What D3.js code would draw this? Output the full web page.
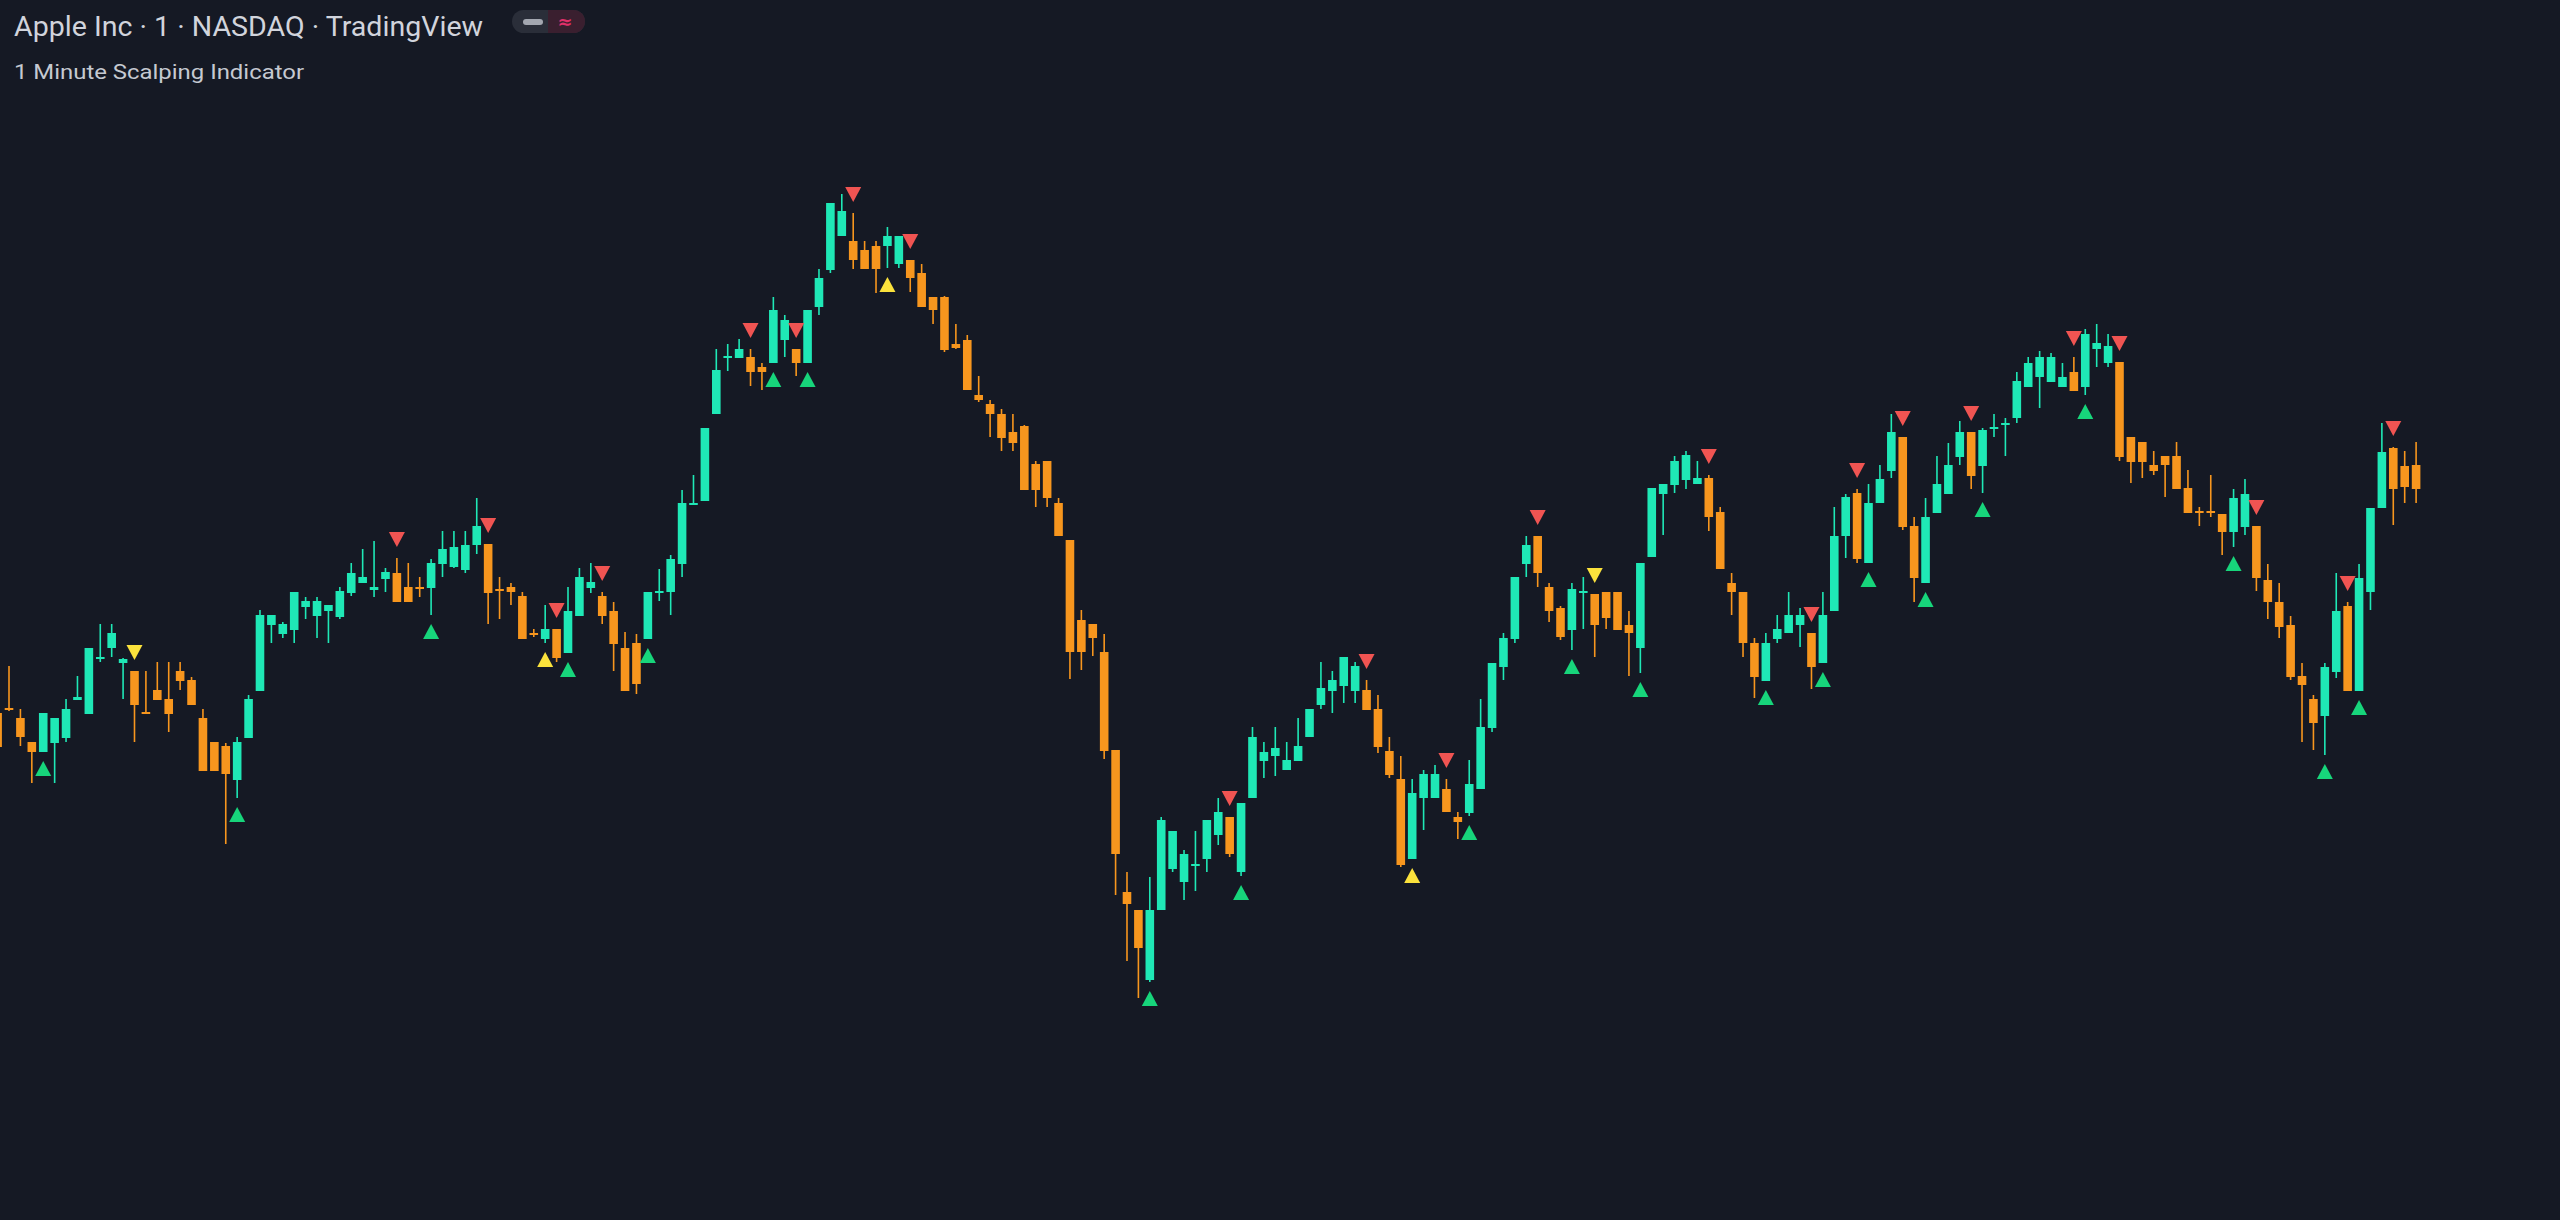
<!DOCTYPE html>
<html>
<head>
<meta charset="utf-8">
<title>Apple Inc - 1 Minute Scalping Indicator</title>
<script src="https://cdn.jsdelivr.net/npm/d3@7/dist/d3.min.js"></script>
<style>
  html, body { margin: 0; padding: 0; background: #151924; overflow: hidden; }
</style>
</head>
<body>
<script>
// 1-minute AAPL bars (oldest first)
var opens = [202.87,202.92,202.82,202.58,202.48,202.57,202.62,203.00,202.86,203.41,
  203.52,203.37,203.29,202.88,203.10,203.01,203.29,203.20,202.82,202.58,
  202.54,202.20,202.62,203.09,203.75,203.66,203.70,203.93,203.84,203.89,
  203.83,204.07,204.17,204.10,204.21,204.27,204.13,204.13,204.12,204.36,
  204.33,204.30,204.55,204.56,204.11,204.13,204.04,203.67,203.61,203.71,
  203.47,203.84,204.12,204.04,203.89,203.52,203.57,203.61,204.08,204.08,
  204.36,204.96,204.99,205.86,206.43,206.42,206.43,206.33,206.37,206.60,
  206.51,206.37,206.93,207.30,207.64,207.59,207.50,207.54,207.54,207.36,
  207.40,207.27,207.03,207.03,206.56,206.60,206.05,205.96,205.86,205.68,
  205.74,205.36,205.39,204.97,204.60,203.80,203.76,203.48,202.50,201.08,
  200.90,200.20,200.90,201.31,201.18,201.34,201.41,201.65,201.83,201.28,
  202.02,202.39,202.44,202.30,202.39,202.63,202.95,203.09,203.14,203.09,
  203.10,202.91,202.49,202.21,201.41,202.02,202.02,202.11,201.83,201.87,
  202.11,202.72,203.33,203.61,204.36,204.64,204.13,203.92,203.70,204.08,
  204.06,204.08,204.08,203.75,203.52,204.43,205.06,205.15,205.20,205.16,
  205.22,204.88,204.17,204.08,203.57,203.19,203.61,203.67,203.75,203.67,
  203.37,203.89,204.64,205.07,204.37,204.97,205.29,205.63,204.74,204.17,
  204.87,205.06,205.43,205.68,205.34,205.72,205.76,205.82,206.13,206.23,
  206.18,206.13,206.28,206.13,206.51,206.37,206.38,205.63,205.58,205.35,
  205.44,205.44,205.12,204.89,204.89,204.86,204.68,204.73,204.74,204.20,
  203.98,203.75,203.24,203.01,202.84,203.28,203.94,203.09,204.08,204.92,
  205.52,205.34,205.35];

var highs = [202.87,203.34,202.91,202.58,202.87,202.82,203.01,203.24,203.52,203.76,
  203.76,203.42,203.29,203.29,203.38,203.38,203.38,203.23,202.91,202.58,
  202.57,202.63,203.05,203.90,203.85,203.78,204.08,204.03,204.03,203.95,
  204.13,204.37,204.51,204.59,204.32,204.42,204.37,204.23,204.41,204.69,
  204.69,204.69,205.02,204.56,204.23,204.17,204.08,203.71,203.95,203.71,
  204.13,204.32,204.37,204.08,203.98,203.68,203.66,204.08,204.31,204.45,
  205.10,205.25,205.72,206.51,206.56,206.61,206.51,206.37,207.03,206.85,
  206.51,206.90,207.31,207.97,208.06,207.87,207.59,207.59,207.73,207.64,
  207.40,207.36,207.03,207.04,206.76,206.65,206.24,206.00,205.91,205.86,
  205.75,205.39,205.39,205.02,204.60,203.90,203.76,203.66,202.50,201.28,
  200.90,201.23,201.83,201.69,201.50,201.69,201.80,202.02,201.83,201.97,
  202.73,202.58,202.73,202.58,202.82,202.91,203.38,203.29,203.43,203.38,
  203.20,203.05,202.63,202.44,202.21,202.30,202.35,202.21,201.88,202.40,
  203.01,203.37,203.67,204.23,204.64,204.64,204.17,203.94,204.17,204.23,
  204.06,204.08,204.08,203.89,204.37,205.12,205.16,205.44,205.49,205.39,
  205.25,204.93,204.27,204.08,203.62,203.67,203.85,204.08,203.92,203.67,
  204.08,204.93,205.06,205.11,205.16,205.35,205.86,205.63,204.83,205.02,
  205.44,205.57,205.79,205.68,205.72,205.86,205.82,206.28,206.43,206.49,
  206.47,206.37,206.43,206.71,206.76,206.66,206.38,205.63,205.58,205.49,
  205.44,205.58,205.30,204.93,205.25,204.86,205.11,205.21,204.74,204.36,
  204.17,203.84,203.37,203.05,203.37,204.27,203.98,204.36,204.92,205.77,
  205.53,205.49,205.58];

var lows = [202.53,202.89,202.54,202.17,202.48,202.17,202.58,203.00,202.86,203.38,
  203.43,203.01,202.58,202.86,203.00,202.68,203.10,202.95,202.29,202.29,
  201.56,202.02,202.62,203.09,203.57,203.62,203.57,203.81,203.62,203.57,
  203.81,204.04,204.17,204.03,204.08,203.98,203.98,204.03,203.85,204.23,
  204.32,204.27,204.46,203.76,203.81,203.95,203.61,203.63,203.57,203.38,
  203.47,203.84,204.07,203.76,203.29,203.09,203.06,203.61,203.99,203.85,
  204.23,204.96,204.99,205.86,206.29,206.42,206.14,206.10,206.37,206.43,
  206.24,206.37,206.85,207.27,207.64,207.31,207.31,207.07,207.32,207.32,
  207.08,206.93,206.76,206.48,206.51,206.10,205.98,205.63,205.49,205.49,
  205.10,204.93,204.93,204.64,203.21,203.30,203.44,202.41,201.05,200.39,
  200.02,200.18,200.90,201.28,201.00,201.09,201.28,201.55,201.43,201.24,
  202.02,202.22,202.24,202.30,202.39,202.63,202.91,202.87,202.97,202.97,
  202.90,202.47,202.22,201.33,201.41,201.70,202.02,201.88,201.61,201.84,
  202.11,202.68,203.20,203.57,204.23,204.13,203.78,203.60,203.50,203.71,
  203.43,203.71,203.70,203.24,203.27,204.43,204.65,205.07,205.11,205.16,
  204.69,204.31,203.85,203.43,203.02,203.19,203.57,203.67,203.53,203.11,
  203.37,203.89,204.42,204.37,204.37,204.97,205.22,204.70,203.98,204.17,
  204.87,205.06,205.35,205.11,205.07,205.63,205.44,205.77,206.13,205.92,
  206.18,206.13,206.09,206.05,206.33,206.33,205.39,205.17,205.22,205.25,
  205.03,205.11,204.87,204.74,204.83,204.45,204.53,204.65,204.09,203.81,
  203.62,203.20,202.58,202.50,202.45,203.22,203.09,203.09,203.90,204.92,
  204.75,204.97,204.97];

var closes = [202.53,202.90,202.63,202.48,202.87,202.82,202.91,203.03,203.52,203.43,
  203.67,203.41,202.95,202.86,203.00,202.86,203.19,202.95,202.29,202.29,
  202.26,202.58,203.01,203.85,203.85,203.76,204.08,203.99,203.99,203.95,
  204.09,204.27,204.23,204.13,204.28,203.98,203.98,204.12,204.37,204.51,
  204.53,204.55,204.74,204.07,204.10,204.08,203.61,203.66,203.71,203.42,
  203.89,204.23,204.18,203.84,203.56,203.09,203.16,204.08,204.09,204.41,
  204.97,204.97,205.72,206.30,206.44,206.51,206.28,206.28,206.90,206.80,
  206.37,206.90,207.22,207.97,207.89,207.40,207.31,207.31,207.64,207.64,
  207.22,206.93,206.90,206.50,206.52,206.10,206.00,205.86,205.62,205.57,
  205.10,205.10,205.02,204.64,203.48,203.48,203.62,202.49,201.46,200.96,
  200.52,200.90,201.80,201.69,201.46,201.36,201.80,201.88,201.46,201.97,
  202.63,202.48,202.52,202.40,202.54,202.91,203.12,203.20,203.43,203.34,
  202.90,202.53,202.25,201.35,202.07,202.26,202.26,201.88,201.78,202.16,
  202.73,203.37,203.62,204.23,204.55,204.27,203.89,203.63,204.11,204.09,
  203.75,203.82,203.70,203.67,204.37,205.12,205.16,205.39,205.45,205.22,
  204.83,204.31,204.08,203.57,203.23,203.57,203.71,203.85,203.85,203.33,
  203.85,204.64,205.03,204.41,204.97,205.21,205.68,204.73,204.22,204.83,
  205.16,205.35,205.68,205.24,205.70,205.73,205.77,206.19,206.37,206.43,
  206.43,206.23,206.09,206.66,206.57,206.54,205.43,205.38,205.38,205.29,
  205.35,205.11,204.87,204.87,204.87,204.68,205.02,205.06,204.22,203.98,
  203.73,203.23,203.15,202.77,203.33,203.89,203.09,204.22,204.92,205.48,
  205.11,205.13,205.11];

// indicator signals (bar index)
var buySignals = [4,21,38,50,57,68,71,101,109,129,138,144,155,160,164,169,174,183,196,204,207];
var sellSignals = [35,43,49,53,66,70,75,80,108,120,127,135,150,159,163,167,173,182,186,198,206,210];
var weakBuySignals = [48,78,124];
var weakSellSignals = [12,140];

var width = 2560, height = 1220;
var bullColor = "#1fe8b6", bearColor = "#f7961e";

var bars = opens.map(function (o, i) {
  return {i: i, o: o, h: highs[i], l: lows[i], c: closes[i]};
});

var x = d3.scaleLinear().domain([0, 212]).range([-2.4, 2416.1]);
var y = d3.scaleLinear().domain([200, 210]).range([1000, 0]);

var svg = d3.select("body").append("svg")
    .attr("width", width)
    .attr("height", height);

svg.append("rect").attr("width", width).attr("height", height).attr("fill", "#151924");

// header
svg.append("text")
    .attr("x", 14).attr("y", 36)
    .attr("font-family", "Roboto, sans-serif")
    .attr("font-size", 28)
    .attr("fill", "#d1d4dc")
    .attr("textLength", 469).attr("lengthAdjust", "spacingAndGlyphs")
    .text("Apple Inc \u00b7 1 \u00b7 NASDAQ \u00b7 TradingView");

svg.append("text")
    .attr("x", 14).attr("y", 79)
    .attr("font-family", "Roboto, sans-serif")
    .attr("font-size", 20)
    .attr("fill", "#c5c9d1")
    .attr("textLength", 290).attr("lengthAdjust", "spacingAndGlyphs")
    .text("1 Minute Scalping Indicator");

// little toggle badge next to the title
var badge = svg.append("g").attr("transform", "translate(512,10)");
badge.append("rect").attr("width", 73).attr("height", 23).attr("rx", 11.5).attr("fill", "#2a2e39");
badge.append("path").attr("d", "M36,0 H61.5 A11.5,11.5 0 0 1 61.5,23 H36 Z").attr("fill", "#3a1f2f");
badge.append("rect").attr("x", 11).attr("y", 9).attr("width", 20).attr("height", 6).attr("rx", 3).attr("fill", "#a3a7b0");
badge.append("text").attr("x", 53).attr("y", 18).attr("text-anchor", "middle")
    .attr("font-family", "'DejaVu Sans', sans-serif").attr("font-size", 18).attr("font-weight", "bold")
    .attr("fill", "#e0306a").text("\u2248");

// candles
var candles = svg.append("g").attr("id", "candles");

candles.selectAll(".wick")
  .data(bars)
  .enter().append("line")
    .attr("class", "wick")
    .attr("x1", function (d) { return x(d.i); })
    .attr("x2", function (d) { return x(d.i); })
    .attr("y1", function (d) { return y(Math.max(d.h, d.o, d.c)); })
    .attr("y2", function (d) { return y(Math.min(d.l, d.o, d.c)); })
    .attr("stroke", function (d) { return d.c >= d.o ? bullColor : bearColor; })
    .attr("stroke-width", 1.6);

candles.selectAll(".body")
  .data(bars)
  .enter().append("rect")
    .attr("class", "body")
    .attr("x", function (d) { return x(d.i) - 4.3; })
    .attr("width", 8.6)
    .attr("y", function (d) { return y(Math.max(d.o, d.c)); })
    .attr("height", function (d) { return Math.max(2, Math.abs(y(d.o) - y(d.c))); })
    .attr("fill", function (d) { return d.c >= d.o ? bullColor : bearColor; });

// signal triangles
function upTri(d) {
  var cx = x(d), top = y(lows[d]) + 9;
  return "M" + cx + "," + top + "L" + (cx + 8) + "," + (top + 15) + "L" + (cx - 8) + "," + (top + 15) + "Z";
}
function downTri(d) {
  var cx = x(d), bot = y(highs[d]) - 11;
  return "M" + cx + "," + bot + "L" + (cx + 8) + "," + (bot - 15) + "L" + (cx - 8) + "," + (bot - 15) + "Z";
}

var signals = svg.append("g").attr("id", "signals");
signals.selectAll(".buy").data(buySignals).enter().append("path")
    .attr("class", "buy").attr("d", upTri).attr("fill", "#17d57b");
signals.selectAll(".sell").data(sellSignals).enter().append("path")
    .attr("class", "sell").attr("d", downTri).attr("fill", "#f05452");
signals.selectAll(".wbuy").data(weakBuySignals).enter().append("path")
    .attr("class", "wbuy").attr("d", upTri).attr("fill", "#fbe23c");
signals.selectAll(".wsell").data(weakSellSignals).enter().append("path")
    .attr("class", "wsell").attr("d", downTri).attr("fill", "#fbe23c");
</script>
</body>
</html>
